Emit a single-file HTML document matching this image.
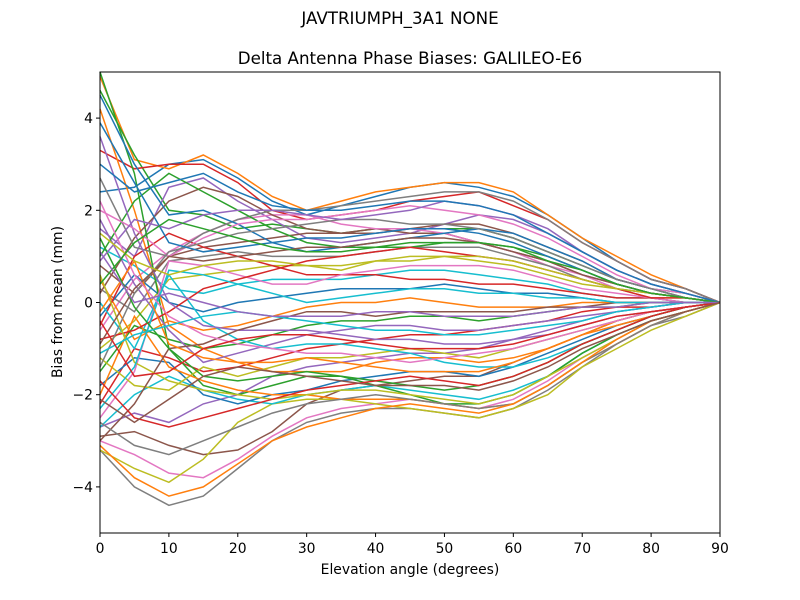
<!DOCTYPE html>
<html><head><meta charset="utf-8"><style>
body{margin:0;background:#fff;}
svg{display:block;font-family:"DejaVu Sans","Liberation Sans",sans-serif;}
</style></head><body>
<svg id="chart" width="800" height="600">
<rect width="800" height="600" fill="#fff"/>
<text x="400" y="24" text-anchor="middle" font-size="16.7">JAVTRIUMPH_3A1  NONE</text>
<text x="410" y="64" text-anchor="middle" font-size="16.7">Delta Antenna Phase Biases: GALILEO-E6</text>
<g id="lines"></g>
<rect x="100" y="72" width="620" height="461" fill="none" stroke="#000" stroke-width="1"/>
<g id="ticks"></g>
<text x="410" y="574" text-anchor="middle" font-size="13.9">Elevation angle (degrees)</text>
<text x="62" y="302" text-anchor="middle" font-size="13.9" transform="rotate(-90 62 302)">Bias from mean (mm)</text>
</svg>
<script>
const elevations=[0,5,10,15,20,25,30,35,40,45,50,55,60,65,70,75,80,85,90];
const xTicks=[0,10,20,30,40,50,60,70,80,90];
const yTicks=[-4,-2,0,2,4];
const colors=["#1f77b4","#ff7f0e","#2ca02c","#d62728","#9467bd","#8c564b","#e377c2","#7f7f7f","#bcbd22","#17becf"];
const series=[
[2.4,2.5,3.0,3.1,2.7,2.2,1.9,2.1,2.3,2.5,2.6,2.5,2.3,1.9,1.4,0.9,0.5,0.3,0],
[4.9,3.1,2.9,3.2,2.8,2.3,2.0,2.2,2.4,2.5,2.6,2.6,2.4,1.9,1.4,1.0,0.6,0.3,0],
[4.6,3.2,2.0,1.9,1.6,1.7,1.6,1.5,1.6,1.6,1.6,1.6,1.4,1.1,0.8,0.5,0.3,0.2,0],
[3.3,2.9,3.0,3.0,2.6,2.0,1.8,1.9,2.0,2.2,2.3,2.4,2.1,1.8,1.3,0.9,0.5,0.3,0],
[1.6,1.0,2.5,2.7,2.2,1.8,1.4,1.3,1.4,1.5,1.7,1.9,1.8,1.5,1.1,0.7,0.4,0.2,0],
[0.8,0.2,1.0,1.2,1.3,1.4,1.5,1.5,1.6,1.5,1.5,1.3,1.1,0.9,0.6,0.4,0.2,0.1,0],
[-0.6,0.5,1.1,1.5,1.8,1.9,1.9,1.7,1.6,1.6,1.5,1.3,1.1,0.8,0.6,0.3,0.2,0.1,0],
[0.3,-0.2,0.9,1.0,1.1,1.0,1.0,1.0,1.1,1.2,1.2,1.2,1.0,0.8,0.5,0.3,0.2,0.1,0],
[-1.0,-0.4,0.5,0.6,0.7,0.8,0.8,0.7,0.9,1.0,1.0,0.9,0.8,0.6,0.4,0.3,0.1,0.1,0],
[1.2,0.8,0.3,0.2,0.4,0.5,0.5,0.5,0.6,0.7,0.7,0.6,0.5,0.4,0.2,0.1,0.1,0.0,0],
[-0.3,0.6,0.0,-0.2,0.0,0.1,0.2,0.3,0.3,0.3,0.4,0.3,0.2,0.2,0.1,0.0,0.0,0.0,0],
[0.5,-0.8,-0.4,-0.6,-0.5,-0.3,-0.1,0.0,0.0,0.1,0.0,-0.1,-0.1,-0.1,0.0,0.0,0.0,0.0,0],
[-1.5,-0.5,-0.8,-1.0,-0.9,-0.7,-0.5,-0.4,-0.4,-0.3,-0.3,-0.4,-0.3,-0.2,-0.1,-0.1,0,0,0],
[-2.2,-1.0,-1.2,-1.5,-1.4,-1.2,-1.0,-0.9,-0.8,-0.7,-0.7,-0.6,-0.5,-0.4,-0.2,-0.1,-0.1,0,0],
[-2.7,-2.4,-2.6,-2.2,-2.0,-1.6,-1.4,-1.3,-1.2,-1.1,-1.1,-1.0,-0.8,-0.6,-0.4,-0.2,-0.1,0,0],
[-2.9,-2.8,-3.1,-3.3,-3.2,-2.8,-2.2,-1.9,-1.8,-1.7,-1.6,-1.6,-1.3,-1.0,-0.7,-0.4,-0.2,-0.1,0],
[-3.0,-3.3,-3.7,-3.8,-3.4,-2.9,-2.5,-2.3,-2.2,-2.1,-2.2,-2.3,-2.1,-1.7,-1.2,-0.8,-0.4,-0.2,0],
[-3.2,-4.0,-4.4,-4.2,-3.6,-3.0,-2.6,-2.4,-2.3,-2.3,-2.4,-2.5,-2.3,-1.9,-1.4,-0.9,-0.5,-0.3,0],
[-3.2,-3.6,-3.9,-3.4,-2.6,-2.2,-2.1,-2.1,-2.2,-2.3,-2.4,-2.5,-2.3,-2.0,-1.4,-1.0,-0.6,-0.3,0],
[-2.7,-2.0,-1.6,-1.9,-2.1,-2.2,-2.0,-1.9,-1.8,-1.9,-2.0,-2.1,-1.9,-1.6,-1.1,-0.7,-0.4,-0.2,0],
[-1.8,-1.2,-1.3,-2.0,-2.2,-2.0,-1.9,-1.7,-1.6,-1.5,-1.5,-1.6,-1.4,-1.1,-0.8,-0.5,-0.3,-0.1,0],
[4.2,2.0,-0.5,-1.0,-1.3,-1.5,-1.5,-1.5,-1.3,-1.2,-1.2,-1.3,-1.2,-1.0,-0.7,-0.4,-0.2,-0.1,0],
[5.0,2.8,-1.0,-1.8,-2.0,-1.8,-1.6,-1.6,-1.8,-2.0,-2.2,-2.2,-2.0,-1.6,-1.1,-0.7,-0.4,-0.2,0],
[-0.5,1.0,1.5,1.2,1.0,0.8,0.6,0.6,0.6,0.5,0.5,0.4,0.4,0.3,0.2,0.1,0.1,0,0],
[1.8,0.4,-0.6,-1.3,-1.1,-0.9,-0.7,-0.6,-0.5,-0.5,-0.6,-0.6,-0.5,-0.4,-0.3,-0.2,-0.1,0,0],
[0.2,1.4,2.2,2.5,2.3,1.9,1.6,1.5,1.5,1.6,1.7,1.7,1.5,1.2,0.9,0.5,0.3,0.1,0],
[-2.5,-1.5,0.9,0.8,0.6,0.4,0.4,0.6,0.7,0.8,0.8,0.8,0.7,0.5,0.3,0.2,0.1,0,0],
[2.7,1.2,1.0,1.5,1.8,2.0,2.0,2.1,2.2,2.3,2.4,2.4,2.2,1.8,1.3,0.9,0.5,0.3,0],
[-1.2,-1.8,-1.9,-1.4,-1.6,-1.4,-1.2,-1.2,-1.1,-1.0,-1.1,-1.2,-1.0,-0.8,-0.6,-0.4,-0.2,-0.1,0],
[0.0,-1.0,0.6,-0.4,-0.8,-1.0,-0.9,-0.9,-1.0,-1.1,-1.3,-1.4,-1.4,-1.2,-0.9,-0.6,-0.3,-0.1,0],
[4.5,3.0,1.9,2.0,1.7,1.3,1.1,1.2,1.3,1.4,1.5,1.6,1.5,1.2,0.9,0.5,0.3,0.1,0],
[-2.0,-0.3,-1.4,-1.7,-1.9,-2.0,-2.0,-2.1,-2.1,-2.1,-2.2,-2.3,-2.2,-1.8,-1.3,-0.9,-0.5,-0.2,0],
[1.0,2.2,2.8,2.4,2.0,1.6,1.3,1.2,1.2,1.2,1.3,1.3,1.2,1.0,0.7,0.4,0.2,0.1,0],
[-0.8,-0.6,-0.2,0.3,0.5,0.7,0.9,1.0,1.1,1.2,1.1,1.0,0.9,0.7,0.5,0.3,0.1,0.1,0],
[3.6,1.5,0.0,-0.5,-0.6,-0.6,-0.6,-0.7,-0.8,-0.8,-0.9,-0.9,-0.8,-0.7,-0.5,-0.3,-0.2,-0.1,0],
[-3.0,-2.2,-1.0,-0.9,-0.6,-0.4,-0.2,-0.2,-0.3,-0.2,-0.2,-0.2,-0.2,-0.1,-0.1,0,0,0,0],
[2.0,1.6,1.0,1.4,1.7,1.8,1.8,1.9,2.0,2.1,2.0,1.9,1.7,1.4,1.0,0.6,0.3,0.2,0],
[-1.4,0.2,1.1,1.3,1.5,1.6,1.7,1.8,1.8,1.7,1.7,1.6,1.4,1.1,0.8,0.5,0.3,0.1,0],
[0.6,-1.3,-1.7,-1.9,-2.0,-2.1,-2.0,-1.9,-1.9,-2.0,-2.1,-2.2,-2.0,-1.6,-1.2,-0.8,-0.4,-0.2,0],
[-2.3,-1.4,0.7,0.6,0.4,0.2,0.0,0.1,0.2,0.3,0.3,0.2,0.2,0.1,0.1,0,0,0,0],
[3.9,2.6,1.3,1.1,1.2,1.3,1.4,1.4,1.5,1.6,1.6,1.5,1.3,1.0,0.7,0.4,0.2,0.1,0],
[-0.2,0.9,-0.9,-1.2,-1.3,-1.3,-1.2,-1.3,-1.4,-1.5,-1.5,-1.5,-1.3,-1.0,-0.7,-0.5,-0.3,-0.1,0],
[1.4,-0.1,-1.0,-1.6,-1.7,-1.6,-1.5,-1.6,-1.7,-1.8,-1.9,-1.8,-1.6,-1.3,-0.9,-0.6,-0.3,-0.1,0],
[-1.7,-2.5,-2.7,-2.5,-2.3,-2.1,-1.9,-1.8,-1.7,-1.6,-1.7,-1.8,-1.6,-1.3,-0.9,-0.6,-0.3,-0.1,0],
[0.9,1.8,1.6,1.9,2.0,2.0,1.9,1.8,1.9,2.0,2.2,2.1,1.9,1.6,1.1,0.7,0.4,0.2,0],
[-0.9,0.3,1.0,0.9,1.0,1.1,1.2,1.2,1.3,1.4,1.4,1.3,1.1,0.9,0.6,0.4,0.2,0.1,0],
[2.2,0.6,-0.3,-0.7,-0.9,-1.0,-1.1,-1.1,-1.2,-1.3,-1.2,-1.1,-1.0,-0.8,-0.6,-0.4,-0.2,-0.1,0],
[-2.6,-3.1,-3.3,-3.0,-2.7,-2.4,-2.2,-2.1,-2.0,-2.1,-2.2,-2.3,-2.2,-1.8,-1.3,-0.9,-0.5,-0.2,0],
[1.5,0.9,0.6,0.8,0.9,0.9,0.8,0.8,0.9,0.9,1.0,1.0,0.9,0.7,0.5,0.3,0.2,0.1,0],
[-1.1,-0.7,-0.5,-0.3,-0.2,-0.3,-0.4,-0.5,-0.6,-0.6,-0.7,-0.7,-0.6,-0.5,-0.4,-0.2,-0.1,0,0],
[3.0,2.4,2.6,2.8,2.4,2.1,2.0,2.0,2.1,2.2,2.2,2.1,1.9,1.5,1.1,0.7,0.4,0.2,0],
[-3.1,-3.8,-4.2,-4.0,-3.5,-3.0,-2.7,-2.5,-2.3,-2.2,-2.3,-2.4,-2.2,-1.8,-1.3,-0.8,-0.4,-0.2,0],
[0.4,1.3,1.8,1.6,1.4,1.2,1.1,1.1,1.2,1.3,1.3,1.3,1.2,0.9,0.7,0.4,0.2,0.1,0],
[-0.4,-1.6,-1.5,-1.0,-0.8,-0.7,-0.7,-0.8,-0.9,-1.0,-1.0,-1.0,-0.9,-0.7,-0.5,-0.3,-0.2,-0.1,0],
[1.1,0.0,0.2,0.0,-0.2,-0.3,-0.3,-0.3,-0.2,-0.2,-0.3,-0.3,-0.3,-0.2,-0.1,-0.1,0,0,0],
[-2.1,-2.6,-2.1,-1.6,-1.4,-1.5,-1.6,-1.7,-1.8,-1.8,-1.8,-1.9,-1.7,-1.4,-1.0,-0.7,-0.4,-0.2,0]
];
const X0=100,X1=720,Y0=533,Y1=72;
function xs(v){return X0+(v-0)/(90-0)*(X1-X0);}
function ys(v){return Y0-(v+5)/10*(Y0-Y1);}
const NS="http://www.w3.org/2000/svg";
const lg=document.getElementById("lines");
series.forEach((s,i)=>{
  const p=document.createElementNS(NS,"polyline");
  p.setAttribute("points",s.map((v,j)=>xs(elevations[j]).toFixed(1)+","+ys(v).toFixed(1)).join(" "));
  p.setAttribute("fill","none");
  p.setAttribute("stroke",colors[i%10]);
  p.setAttribute("stroke-width","1.5");
  
  
  lg.appendChild(p);
});
const tg=document.getElementById("ticks");
xTicks.forEach(t=>{
  const l=document.createElementNS(NS,"line");
  l.setAttribute("x1",xs(t));l.setAttribute("x2",xs(t));l.setAttribute("y1",Y0);l.setAttribute("y2",Y0+4);
  l.setAttribute("stroke","#000");
  
  
  tg.appendChild(l);
  const tx=document.createElementNS(NS,"text");
  tx.setAttribute("x",xs(t));tx.setAttribute("y",Y0+20);tx.setAttribute("text-anchor","middle");tx.setAttribute("font-size","13.9");
  tx.textContent=t;
  
  
  tg.appendChild(tx);
});
yTicks.forEach(t=>{
  const l=document.createElementNS(NS,"line");
  l.setAttribute("x1",X0-4);l.setAttribute("x2",X0);l.setAttribute("y1",ys(t));l.setAttribute("y2",ys(t));
  l.setAttribute("stroke","#000");
  
  
  tg.appendChild(l);
  const tx=document.createElementNS(NS,"text");
  tx.setAttribute("x",X0-7);tx.setAttribute("y",ys(t)+5);tx.setAttribute("text-anchor","end");tx.setAttribute("font-size","13.9");
  tx.textContent=t<0?"\u2212"+Math.abs(t):String(t);
  
  
  tg.appendChild(tx);
});
</script>
</body></html>
